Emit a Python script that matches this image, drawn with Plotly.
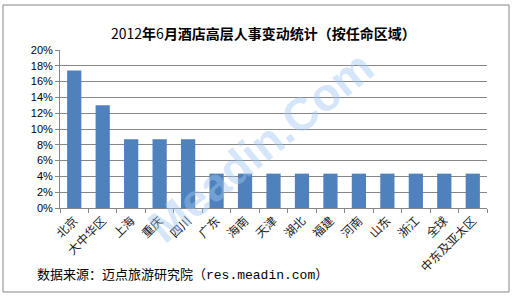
import plotly.graph_objects as go

categories = ["北京", "大中华区", "上海", "重庆", "四川", "广东", "海南", "天津",
              "湖北", "福建", "河南", "山东", "浙江", "全球", "中东及亚太区"]
values = [17.4, 13.0, 8.7, 8.7, 8.7, 4.35, 4.35, 4.35, 4.35, 4.35, 4.35, 4.35, 4.35, 4.35, 4.35]
y_ticks = [0, 2, 4, 6, 8, 10, 12, 14, 16, 18, 20]
y_tick_labels = [f"{v}%" for v in y_ticks]

title_html = "2012<b>年</b>6<b>月酒店高层人事变动统计（按任命区域）</b>"
source_text = "数据来源：迈点旅游研究院（res.meadin.com）"
watermark_text = "Meadin.Com"

W, H = 513, 296
L, R, T, B = 60, 26, 50, 88
pw, ph = W - L - R, H - T - B

def px(x):
    return (x - L) / pw

def py(y):
    return (H - B - y) / ph

fig = go.Figure(go.Bar(
    x=categories, y=values,
    marker=dict(color="#4F81BD", line=dict(width=0)),
))

fig.update_layout(
    width=W, height=H,
    margin=dict(l=L, r=R, t=T, b=B),
    paper_bgcolor="white", plot_bgcolor="white",
    bargap=0.5,
    showlegend=False,
    font=dict(family="Noto Sans CJK SC", color="#000000"),
    xaxis=dict(
        type="category",
        tickangle=-45,
        tickfont=dict(size=12, family="Noto Sans CJK SC", color="#222"),
        showline=True, linecolor="#868686", linewidth=1,
        ticks="outside", ticklen=4, tickcolor="#868686",
        tickson="boundaries",
        showgrid=False,
    ),
    yaxis=dict(
        range=[0, 20],
        tickvals=y_ticks, ticktext=y_tick_labels,
        tickfont=dict(size=11, family="Liberation Sans Narrow, Liberation Sans", color="#000"),
        showline=True, linecolor="#868686", linewidth=1,
        ticks="outside", ticklen=4, tickcolor="#868686",
        showgrid=True, gridcolor="#868686", gridwidth=1,
        zeroline=False,
    ),
    shapes=[dict(
        type="rect", xref="paper", yref="paper",
        x0=px(3), x1=px(509), y0=py(292), y1=py(5),
        line=dict(color="#868686", width=1), fillcolor="rgba(0,0,0,0)",
        layer="below",
    )],
    annotations=[
        dict(text=title_html, xref="paper", yref="paper",
             x=px(263), y=py(33), xanchor="center", yanchor="middle",
             showarrow=False, font=dict(size=14, family="Noto Sans CJK SC", color="#000")),
        dict(text=source_text, xref="paper", yref="paper",
             x=px(35), y=py(275), xanchor="left", yanchor="middle",
             showarrow=False, font=dict(size=13, family="Liberation Mono, Noto Sans CJK SC", color="#000")),
        dict(text="<b>" + watermark_text + "</b>", xref="paper", yref="paper",
             x=px(260), y=py(147), xanchor="center", yanchor="middle",
             textangle=-39, showarrow=False,
             font=dict(size=46, family="Liberation Sans", color="rgba(160,200,245,0.45)")),
    ],
)

fig.write_html("out.html")
